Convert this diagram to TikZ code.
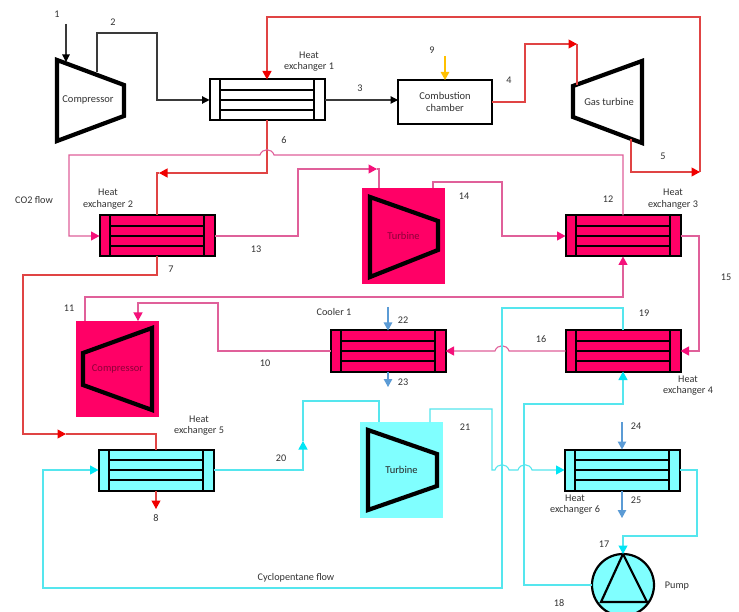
\documentclass[tikz,border=0pt]{standalone}
\usepackage{fontspec}
\setmainfont{Carlito}
\usepackage{tikz}
\usetikzlibrary{arrows.meta,calc}
\definecolor{redln}{HTML}{E04444}
\definecolor{redtip}{HTML}{F00000}
\definecolor{pinkln}{HTML}{E0609A}
\definecolor{pinktip}{HTML}{F5107A}
\definecolor{pinkbg}{HTML}{FF0066}
\definecolor{cyanln}{HTML}{55E6EE}
\definecolor{cyantip}{HTML}{00E5F5}
\definecolor{cyanbg}{HTML}{80FFFF}
\definecolor{blueln}{HTML}{5B9BD5}
\definecolor{yellowln}{HTML}{FFC000}
\definecolor{darkln}{HTML}{3A3A3A}
\tikzset{
  tip/.style={line width=1.1pt,draw=#1ln,>={Triangle[length=8.5pt,width=9pt,color=#1tip,fill=#1tip]}},
  flowk/.style={line width=1.1pt,draw=darkln,>={Triangle[length=7.5pt,width=7.5pt,color=black,fill=black]}},
  flowr/.style={tip=red},
  flowp/.style={tip=pink},
  flowc/.style={tip=cyan},
  flowb/.style={line width=1.1pt,draw=blueln,>={Triangle[length=8pt,width=8.5pt,color=blueln,fill=blueln]}},
  flowy/.style={line width=1.1pt,draw=yellowln,>={Triangle[length=8pt,width=8.5pt,color=yellowln,fill=yellowln]}},
  hx/.style={rectangle,draw,line width=2pt,inner sep=0pt,outer sep=0pt,minimum width=115pt,minimum height=41pt,
    path picture={
      \foreach \f in {.25,.5,.75}
        \draw[line width=1.8pt] ($(path picture bounding box.south west)!\f!(path picture bounding box.north west)+(10.35,0)$)
          -- ($(path picture bounding box.south east)!\f!(path picture bounding box.north east)-(10.35,0)$);
      \foreach \f in {.09,.91}
        \draw[line width=1.8pt] ($(path picture bounding box.south west)!\f!(path picture bounding box.south east)$)
          -- ($(path picture bounding box.north west)!\f!(path picture bounding box.north east)$);
    }},
  mbox/.style={rectangle,inner sep=0pt,outer sep=0pt,minimum width=83pt,minimum height=96pt,font=\fontsize{10.5}{12}\selectfont},
  mach/.style={draw,line width=4.2pt,miter limit=10},
  lb/.style={inner sep=0pt,text=black!80,align=center,font=\fontsize{10.2}{11.5}\selectfont},
}
\begin{document}
\begin{tikzpicture}[x=1pt,y=-1pt]
\path[use as bounding box,fill=white] (0,0) rectangle (739,612);
\node[hx,fill=white] (hxa) at (267,100){}; \node[hx,fill=pinkbg] (hxb) at (157,236){};
\node[hx,fill=pinkbg] (hxc) at (623,236){}; \node[hx,fill=pinkbg] (hxd) at (623,351){};
\node[hx,fill=cyanbg] (hxe) at (156,470){}; \node[hx,fill=cyanbg] (hxf) at (622,470){};
\node[hx,fill=pinkbg] (clr) at (388,351){};
\node[rectangle,draw,line width=2pt,fill=white,minimum width=94pt,minimum height=44pt,inner sep=0pt,outer sep=0pt,align=center,text=black!80,font=\fontsize{10.5}{12}\selectfont] (cmb) at (445,102){Combustion\\chamber};
\node[mbox,fill=pinkbg,text=pinkbg!55!black] (tba) at (403.5,236){Turbine};
\node[mbox,fill=pinkbg,text=pinkbg!55!black] (cpb) at (117.5,369){Compressor};
\node[mbox,fill=cyanbg,text=black!85] (tbb) at (401.5,470){Turbine};
\draw[mach] (370,197)--(438,221)--(438,250)--(370,277)--cycle;
\draw[mach] (152,328)--(83,353)--(83,385)--(152,410)--cycle;
\draw[mach] (368,430)--(437,454)--(437,486)--(368,510)--cycle;
\draw[mach] (57,60)--(124,85)--(124,116)--(57,141)--cycle;
\draw[mach] (573,86)--(642,61)--(642,143)--(573,117)--cycle;
\node[lb,font=\fontsize{10.5}{12}\selectfont] (cpa) at (88,100){Compressor};
\node[lb,font=\fontsize{10.5}{12}\selectfont] (gtb) at (609,102){Gas turbine};
\node[circle,draw,fill=cyanbg,line width=2.2pt,minimum size=62pt,inner sep=0pt,outer sep=0pt] (pmp) at (623,585){};
\draw[line width=2.2pt] (pmp.north)--(601,602)--(647,602)--cycle;
\coordinate (in1) at (66,24); \coordinate (cpa2) at (97,72); \coordinate (cpa1) at (66,62);
\coordinate (gt4) at (577,85); \coordinate (gt5) at (631,139);
\coordinate (in9) at (445,56); \coordinate (in22) at (388,307); \coordinate (out23) at (388,387);
\coordinate (in24) at (622,422); \coordinate (out25) at (622,518); \coordinate (out8) at (156,509);
\draw[flowk,->] (in1)--(cpa1); \draw[flowk,->] (cpa2)|-(157,33)|-(hxa.west); \draw[flowk,->] (hxa.east)--(hxa.east-|cmb.west);
\draw[flowy,->] (in9)--(cmb.north);
\draw[flowr,->] (cmb.east)-|(525,44)--(577,44); \draw[flowr] (577,44)--(gt4);
\draw[flowr,->] (gt5)|-(700,172); \draw[flowr,->] (700,172)|-(267,17)--(hxa.north);
\draw[flowr,->] (hxa.south)|-(159,173); \draw[flowr] (159,173)-|(hxb.north);
\draw[flowr,->] (hxb.south)|-(23,275)|-(66,434); \draw[flowr] (66,434)-|(hxe.north); \draw[flowr,->] (hxe.south)--(out8);
\draw[flowp,->] (hxc.north)|-(274,155) .. controls (272,148) and (262,148) .. (260,155)-|(69,181)--(69,236)--(hxb.west);
\draw[flowp,->] (hxb.east)-|(298,169)--(377,169); \draw[flowp] (377,169)-|([xshift=-24.5pt]tba.north);
\draw[flowp,->] ([xshift=29.5pt]tba.north)|-(502,182)|-(hxc.west);
\draw[flowp,->] (hxc.east)-|(699,300)|-(hxd.east);
\draw[flowp,->] (hxd.west)--(509,351) .. controls (507,344) and (497,344) .. (495,351)--(clr.east);
\draw[flowp,->] (clr.west)-|(218,303)-|(138,321);
\draw[flowp,->] ([xshift=-32.5pt]cpb.north)|-(623,297)--(hxc.south);
\draw[flowb,->] (in22)--(clr.north); \draw[flowb,->] (clr.south)--(out23);
\draw[flowb,->] (in24)--(hxf.north); \draw[flowb,->] (hxf.south)--(out25);
\draw[flowc,->] (hxe.east)-|(303,441); \draw[flowc] (303,441)|-(379,401)--([xshift=-22.5pt]tbb.north);
\draw[flowc,->] ([xshift=28.5pt]tbb.north)|-(492,409)--(492,470)--(495,470) .. controls (497,463) and (507,463) .. (509,470)--(518,470) .. controls (520,463) and (530,463) .. (532,470)--(hxf.west);
\draw[flowc,->] (hxd.north)|-(502,308)|-(43,588)|-(hxe.west);
\draw[flowc,->] (pmp.west)-|(524,404)-|(hxd.south);
\draw[flowc,->] (hxf.east)-|(697,536)-|(pmp.north);
\foreach \n/\x/\y in {1/57/14,2/113/22,3/360/88,4/509/80,5/663/156,6/284/140,7/171/269,8/156/518,9/432/50,10/265/363,11/69/308,12/608/199,13/256/249,14/464/196,15/726/277,16/541/339,17/604/544,18/559/603,19/644/313,20/281/458,21/465/427,22/403/320,23/403/382,24/636/426,25/636/500}
  \node[lb] (n\n) at (\x,\y){\n};
\node[lb] (txa) at (309,61.5){Heat\\exchanger 1}; \node[lb] (txb) at (108,199){Heat\\exchanger 2};
\node[lb] (txc) at (673,199){Heat\\exchanger 3}; \node[lb] (txd) at (688,385.5){Heat\\exchanger 4};
\node[lb] (txe) at (199,425.5){Heat\\exchanger 5}; \node[lb] (txf) at (575,504.5){Heat\\exchanger 6};
\node[lb] (txg) at (334,312){Cooler 1}; \node[lb] (txh) at (34,200){CO2 flow};
\node[lb] (txi) at (296,578){Cyclopentane flow}; \node[lb] (txj) at (677,586){Pump};
\end{tikzpicture}
\end{document}
